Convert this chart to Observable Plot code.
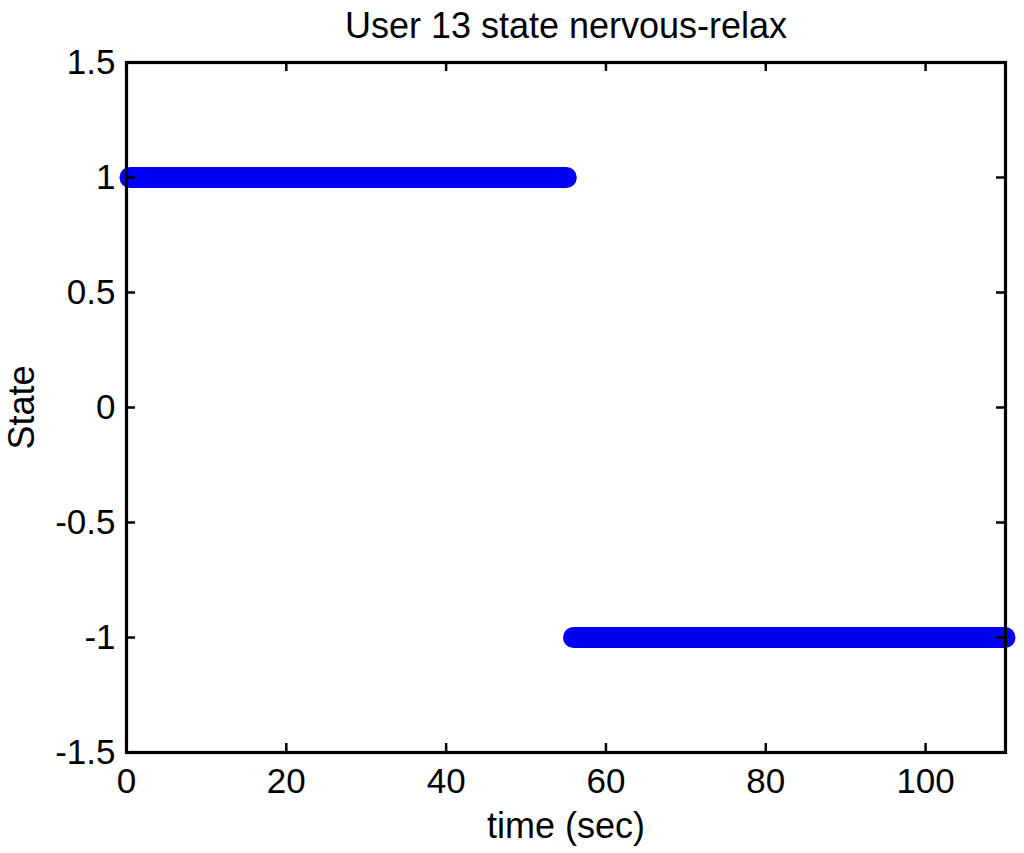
<!DOCTYPE html>
<html>
<head>
<meta charset="utf-8">
<script src="https://cdn.jsdelivr.net/npm/d3@7"></script>
<script src="https://cdn.jsdelivr.net/npm/@observablehq/plot@0.6"></script>
<style>
  html, body { margin: 0; padding: 0; background: #fff; }
  #chart svg { display: block; }
</style>
</head>
<body>
<div id="chart"></div>
<script>
const titleText = "User 13 state nervous-relax";
const xLabel = "time (sec)";
const yLabel = "State";
const xTicks = [0, 20, 40, 60, 80, 100];
const yTicks = [-1.5, -1, -0.5, 0, 0.5, 1, 1.5];
const yTickLabels = ["-1.5", "-1", "-0.5", "0", "0.5", "1", "1.5"];
// state segments: the densely sampled markers form continuous runs
const segStart = [0.5, 56.0];
const segEnd = [55.1, 110];
const segState = [1, -1];

const segments = segState.map((s, i) => ({start: segStart[i], end: segEnd[i], state: s}));

const W = 1024, H = 853;
const mL = 126, mR = 19, mT = 62, mB = 101;
const frameW = W - mL - mR, frameH = H - mT - mB;
const tickLen = 9;
const font = "'Liberation Sans', Arial, Helvetica, sans-serif";

const plot = Plot.plot({
  width: W,
  height: H,
  marginLeft: mL,
  marginRight: mR,
  marginTop: mT,
  marginBottom: mB,
  style: {fontFamily: font, fontSize: "35px", color: "black", background: "white"},
  x: {domain: [0, 110]},
  y: {domain: [-1.5, 1.5]},
  marks: [
    Plot.ruleY(segments, {
      y: "state", x1: "start", x2: "end",
      stroke: "#0000f5", strokeWidth: 21, strokeLinecap: "round"
    }),
    Plot.frame({stroke: "black", strokeWidth: 3.2}),
    // inward ticks (MATLAB style) on all four sides
    Plot.tickX(xTicks, {x: d => d, stroke: "black", strokeWidth: 2.5, insetTop: frameH - tickLen}),
    Plot.tickX(xTicks, {x: d => d, stroke: "black", strokeWidth: 2.5, insetBottom: frameH - tickLen}),
    Plot.tickY(yTicks, {y: d => d, stroke: "black", strokeWidth: 2.5, insetRight: frameW - tickLen}),
    Plot.tickY(yTicks, {y: d => d, stroke: "black", strokeWidth: 2.5, insetLeft: frameW - tickLen}),
    Plot.axisX({ticks: xTicks, tickSize: 0, tickPadding: 16, label: null, fontSize: 35, fill: "black"}),
    Plot.axisY({ticks: yTicks, tickSize: 0, tickPadding: 11, label: null, fontSize: 35, fill: "black",
      tickFormat: d => yTickLabels[yTicks.indexOf(d)]}),
    Plot.text([xLabel], {frameAnchor: "bottom", dy: 74, lineAnchor: "middle", textAnchor: "middle", fontSize: 36, fill: "black"}),
    Plot.text([yLabel], {frameAnchor: "left", dx: -104.5, rotate: -90, lineAnchor: "middle", textAnchor: "middle", fontSize: 36, fill: "black"}),
    Plot.text([titleText], {frameAnchor: "top", dy: -36.5, lineAnchor: "middle", textAnchor: "middle", fontSize: 36, fill: "black"})
  ]
});
document.getElementById("chart").appendChild(plot);
</script>
</body>
</html>
